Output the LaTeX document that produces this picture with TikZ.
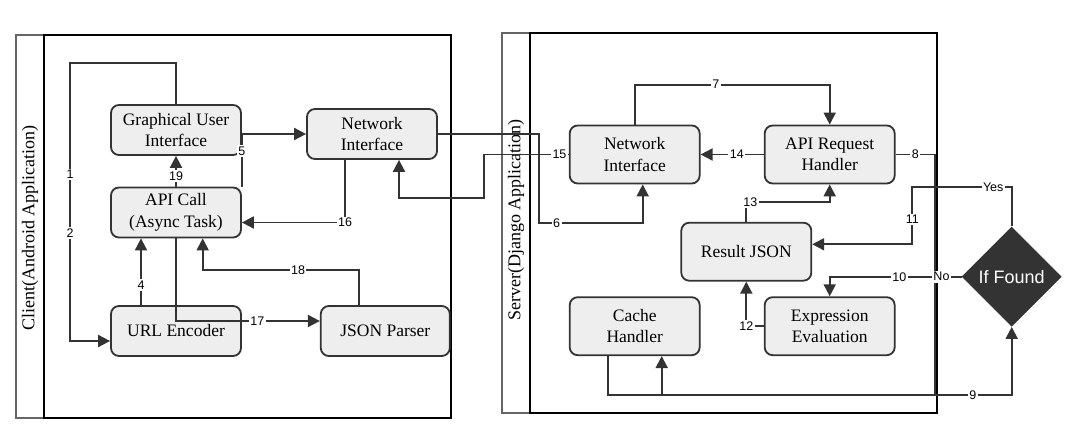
\documentclass[tikz,border=0pt]{standalone}
\usepackage{fontspec}
\setmainfont{Liberation Serif}
\setsansfont{Liberation Sans}
\usetikzlibrary{arrows.meta,shapes.geometric}
\definecolor{linegray}{HTML}{333333}
\definecolor{boxgray}{HTML}{EEEEEE}
\definecolor{lanegray}{HTML}{666666}
\begin{document}
\begin{tikzpicture}[x=1pt, y=-1pt, >={Triangle[length=12pt,width=12pt]},
    box/.style={draw=linegray, fill=boxgray, line width=1.8pt, rounded corners=8pt,
        minimum width=130pt, align=center, font=\fontsize{17.5}{21.5}\selectfont},
    conn/.style={draw=linegray, line width=1.9pt},
    lbl/.style={fill=white, inner sep=1.5pt, font=\sffamily\fontsize{12.5}{12.5}\selectfont},
    lane/.style={draw=lanegray, line width=2pt},
    title/.style={rotate=90, font=\fontsize{18}{18}\selectfont}]

    \useasboundingbox (0,0) rectangle (1087,438);

    % Swimlanes
    \draw[lane] (15.7,35) rectangle (450.7,418);
    \draw[line width=2pt] (44,35) rectangle (450.7,418);
    \node[title] (client) at (30,228) {Client(Android Application)};
    \draw[lane] (502.3,33.3) rectangle (936.7,412.7);
    \draw[line width=2pt] (530,33.3) rectangle (936.7,412.7);
    \node[title] (server) at (516,220) {Server(Django Application)};

    % Client side
    \node[box, minimum height=50pt] (gui) at (176,130) {Graphical User\\Interface};
    \node[box, minimum height=50pt] (cnet) at (372,134) {Network\\Interface};
    \node[box, minimum height=50pt] (api) at (176,212.5) {API Call\\(Async Task)};
    \node[box, minimum height=50pt] (url) at (176,331) {URL Encoder};
    \node[box, minimum height=50pt, minimum width=129pt] (json) at (385.3,331) {JSON Parser};

    % Server side
    \node[box, minimum height=58pt] (snet) at (634.7,154.5) {Network\\Interface};
    \node[box, minimum height=58pt] (sreq) at (829.7,154.5) {API Request\\Handler};
    \node[box, minimum height=58pt] (res) at (746.3,251.7) {Result JSON};
    \node[box, minimum height=58pt] (cache) at (634.7,326.2) {Cache\\Handler};
    \node[box, minimum height=58pt] (expr) at (829.7,326.2) {Expression\\Evaluation};
    \node[diamond, fill=linegray, text=white, minimum width=100pt, minimum height=100pt,
        inner sep=0pt, font=\sffamily\fontsize{18}{18}\selectfont] (found) at (1011.7,276.7) {If Found};

    % Client connectors
    \draw[conn,->] (gui.north) |- (70,63.3) |- node[lbl,pos=0.2]{1} node[lbl,pos=0.305]{2} ([yshift=-10pt]url.west);
    \draw[conn,->] (api.north) -- node[lbl,pos=0.34]{19} (gui.south);
    \draw[conn,->] (api.north east) |- node[lbl,pos=0.335]{5} (cnet.west);
    \draw[conn,->] ([xshift=-27pt]cnet.south) |- node[lbl,pos=0.5]{16} ([yshift=-10pt]api.east);
    \draw[conn,->] ([xshift=-35pt]url.north) -- node[lbl,pos=0.3]{4} ([xshift=-35pt]api.south);
    \draw[conn,->] ([xshift=-26.3pt]json.north) -- ++(0,-35) -| node[lbl,pos=0.195]{18} ([xshift=26.7pt]api.south);
    \draw[conn,->] (api.south) |- node[lbl,pos=0.783]{17} ([yshift=10pt]json.west);

    % Between client and server
    \draw[conn,->] (cnet.east) -| (539.3,223) -| node[lbl,pos=0.084]{6} ([xshift=8pt]snet.south);
    \draw[conn,->] (snet.west) -| node[lbl,pos=0.055]{15} (484,198.3) -| ([xshift=27pt]cnet.south);

    % Server connectors
    \draw[conn,->] (snet.north) -- ++(0,-40) -| node[lbl,pos=0.208]{7} (sreq.north);
    \draw[conn,->] (sreq.west) -- node[lbl,pos=0.425]{14} (snet.east);
    \draw[conn,->] (res.north) -- ++(0,-19.4) node[lbl,xshift=4pt]{13} -| (sreq.south);
    \draw[conn,->] (sreq.east) -| node[lbl,pos=0.25]{8} (935,395) -| node[lbl,pos=0.246]{9} (found.south);
    \draw[conn] ([xshift=-26.4pt]cache.south) |- (935,395);
    \coordinate (cachein) at (661.7,395);
    \draw[conn,->] (cachein) -- ([xshift=27pt]cache.south);
    \draw[conn,->] (found.north) |- node[lbl,pos=0.593]{Yes} (912.3,187.3) |- node[lbl,pos=0.281]{11} ([yshift=7.4pt]res.east);
    \draw[conn,->] (found.west) -| node[lbl,pos=0.076]{No} node[lbl,pos=0.236]{10} (expr.north);
    \draw[conn,->] (expr.west) -| node[lbl,pos=0.5]{12} (res.south);

\end{tikzpicture}
\end{document}
